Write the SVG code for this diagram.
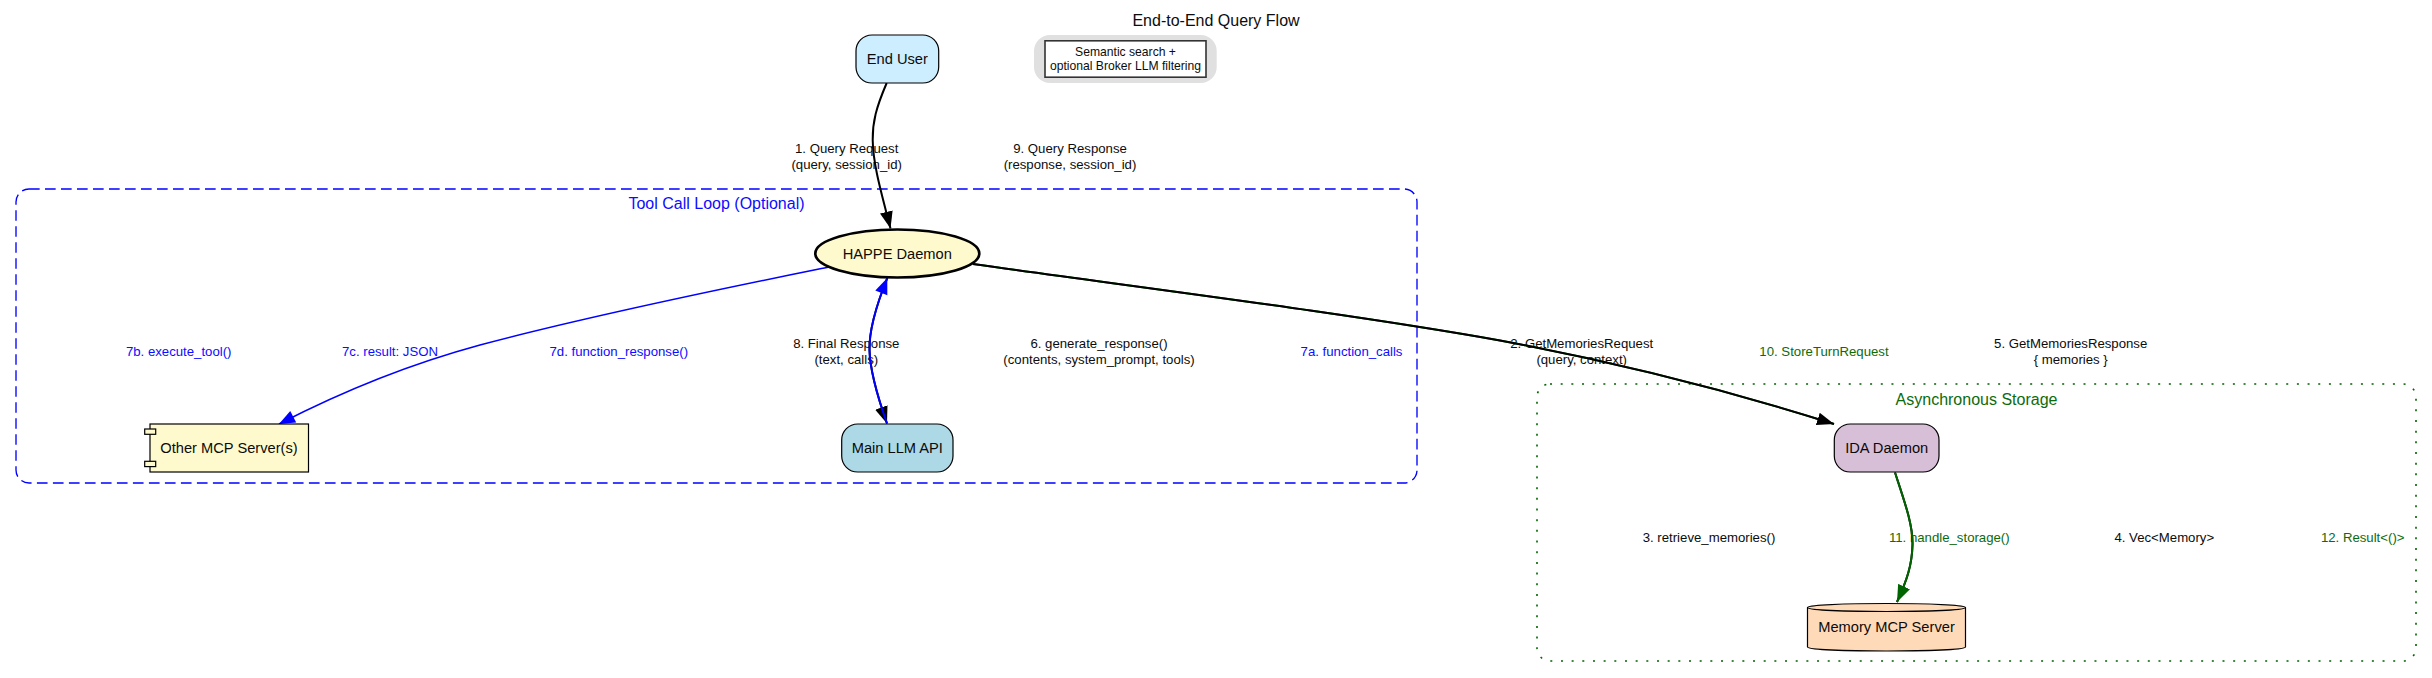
<svg xmlns="http://www.w3.org/2000/svg" width="2432" height="678" viewBox="0 0 2432 678">
<style>
text{font-family:"Liberation Sans",Arial,sans-serif;text-anchor:middle;fill:#000;opacity:.95}
.n{font-size:14.67px}
.t{font-size:16px}
.l{font-size:13.2px}
.s{font-size:12.15px}
.b{fill:#0000ff}
.g{fill:#006400}
.nf{stroke:#000;stroke-width:1.2}
.e{fill:none;stroke-width:2}
.k{stroke:#000}
.u{stroke:#0000ff}
.w{stroke-width:1.6}
.d{stroke:#006400}
</style>
<defs>
<marker id="ak" markerUnits="userSpaceOnUse" markerWidth="18" markerHeight="14" refX="17" refY="7" orient="auto"><path d="M0,0.5 L17,7 L0,13.5 Z" fill="#000"/></marker>
<marker id="au" markerUnits="userSpaceOnUse" markerWidth="18" markerHeight="14" refX="17" refY="7" orient="auto"><path d="M1,0.5 L17,7 L1,13.5 Z" fill="#0000ff"/></marker>
<marker id="ad" markerUnits="userSpaceOnUse" markerWidth="18" markerHeight="14" refX="17" refY="7" orient="auto"><path d="M0,0.5 L17,7 L0,13.5 Z" fill="#006400"/></marker>
</defs>
<rect width="2432" height="678" fill="#fff"/>
<text class="t" x="1216" y="26">End-to-End Query Flow</text>
<g id="cluster-tool">
<rect x="16" y="189" width="1401" height="294" rx="13" fill="none" stroke="#0000ff" stroke-width="1.33" stroke-dasharray="10.67 5.33"/>
<text class="t b" x="716.5" y="209">Tool Call Loop (Optional)</text>
</g>
<g id="cluster-async">
<rect x="1537" y="384" width="879" height="277" rx="13" fill="none" stroke="#006400" stroke-width="1.6" stroke-dasharray="2 8.67"/>
<text class="t g" x="1976.5" y="404.5">Asynchronous Storage</text>
</g>
<g id="legend">
<rect x="1034" y="35" width="182.7" height="48" rx="16" fill="#e0e0e0"/>
<rect x="1045" y="40.8" width="161" height="36.4" fill="#fff" stroke="#333" stroke-width="1.6"/>
<text class="s" x="1125.5" y="56">Semantic search +</text>
<text class="s" x="1125.5" y="70.3">optional Broker LLM filtering</text>
</g>
<g id="labels">
<text class="l" x="846.7" y="153">1. Query Request</text><text class="l" x="846.7" y="169">(query, session_id)</text>
<text class="l" x="1070" y="153">9. Query Response</text><text class="l" x="1070" y="169">(response, session_id)</text>
<text class="l" x="846.3" y="347.7">8. Final Response</text><text class="l" x="846.3" y="363.7">(text, calls)</text>
<text class="l" x="1099" y="347.7">6. generate_response()</text><text class="l" x="1099" y="363.7">(contents, system_prompt, tools)</text>
<text class="l b" x="178.7" y="355.7">7b. execute_tool()</text>
<text class="l b" x="390" y="355.7">7c. result: JSON</text>
<text class="l b" x="618.8" y="355.7">7d. function_response()</text>
<text class="l b" x="1351.5" y="355.7">7a. function_calls</text>
<text class="l" x="1581.7" y="347.7">2. GetMemoriesRequest</text><text class="l" x="1581.7" y="363.7">(query, context)</text>
<text class="l g" x="1824" y="355.7">10. StoreTurnRequest</text>
<text class="l" x="2070.7" y="347.7">5. GetMemoriesResponse</text><text class="l" x="2070.7" y="363.7">{ memories }</text>
<text class="l" x="1709" y="542">3. retrieve_memories()</text>
<text class="l g" x="1949.3" y="542">11. handle_storage()</text>
<text class="l" x="2164.3" y="542">4. Vec&lt;Memory&gt;</text>
<text class="l g" x="2362.7" y="542">12. Result&lt;()&gt;</text>
</g>
<g id="connectors">
<path class="e k" marker-end="url(#ak)" d="M886.7,83 C876,108 872.5,122 872.7,140 C873,165 882,195 890.5,228.5"/>
<path class="e d" d="M973,264 C1120,285 1340,312 1500,340.5 C1610,361 1720,388 1834,424"/>
<path class="e k" marker-end="url(#ak)" d="M973,264 C1120,285 1340,312 1500,340.5 C1610,361 1720,388 1834,424"/>
<path class="e k" marker-end="url(#ak)" d="M887.3,278 C876,306 869,330 869.5,350 C870,372 878,398 887,423.5"/>
<path class="e u" marker-end="url(#au)" d="M887,423.5 C878,398 870,372 869.5,350 C869,330 876,306 887.3,278"/>
<path class="e u w" marker-end="url(#au)" d="M829,267 C760,281 600,313 480,345 C410,364 345,390 279,424"/>
<path class="e k" d="M1895,472.5 C1905,503 1913,525 1912.5,545 C1912,565 1907,580 1897,602"/>
<path class="e d" marker-end="url(#ad)" d="M1895,472.5 C1905,503 1913,525 1912.5,545 C1912,565 1907,580 1897,602"/>
</g>
<g id="end-user">
<rect class="nf" x="856" y="35" width="82.7" height="48" rx="16" fill="#cceeff"/>
<text class="n" x="897.3" y="64">End User</text>
</g>
<g id="happe-daemon">
<ellipse cx="897.3" cy="253.5" rx="82" ry="24" fill="#fffacd" stroke="#000" stroke-width="2.67"/>
<text class="n" x="897.3" y="258.5">HAPPE Daemon</text>
</g>
<g id="main-llm-api">
<rect class="nf" x="841.7" y="424" width="111.3" height="48" rx="16" fill="#add8e6"/>
<text class="n" x="897.3" y="453">Main LLM API</text>
</g>
<g id="other-mcp-servers">
<rect class="nf" x="150" y="424" width="158.5" height="48" fill="#fffacd"/>
<rect class="nf" x="144.7" y="429" width="11" height="5.3" fill="#fffacd"/>
<rect class="nf" x="144.7" y="461.3" width="11" height="5.3" fill="#fffacd"/>
<text class="n" x="229" y="453">Other MCP Server(s)</text>
</g>
<g id="ida-daemon">
<rect class="nf" x="1834.3" y="424" width="104.7" height="48" rx="16" fill="#d8bfd8"/>
<text class="n" x="1886.7" y="453">IDA Daemon</text>
</g>
<g id="memory-mcp-server">
<path class="nf" fill="#ffdab9" d="M1965.5,607.5 V647 C1965.5,649.5 1930,651 1886.5,651 C1843,651 1807.5,649.5 1807.5,647 V607.5 C1807.5,605 1843,603.5 1886.5,603.5 C1930,603.5 1965.5,605 1965.5,607.5 C1965.5,610 1930,611.5 1886.5,611.5 C1843,611.5 1807.5,610 1807.5,607.5"/>
<text class="n" x="1886.5" y="632">Memory MCP Server</text>
</g>
</svg>
